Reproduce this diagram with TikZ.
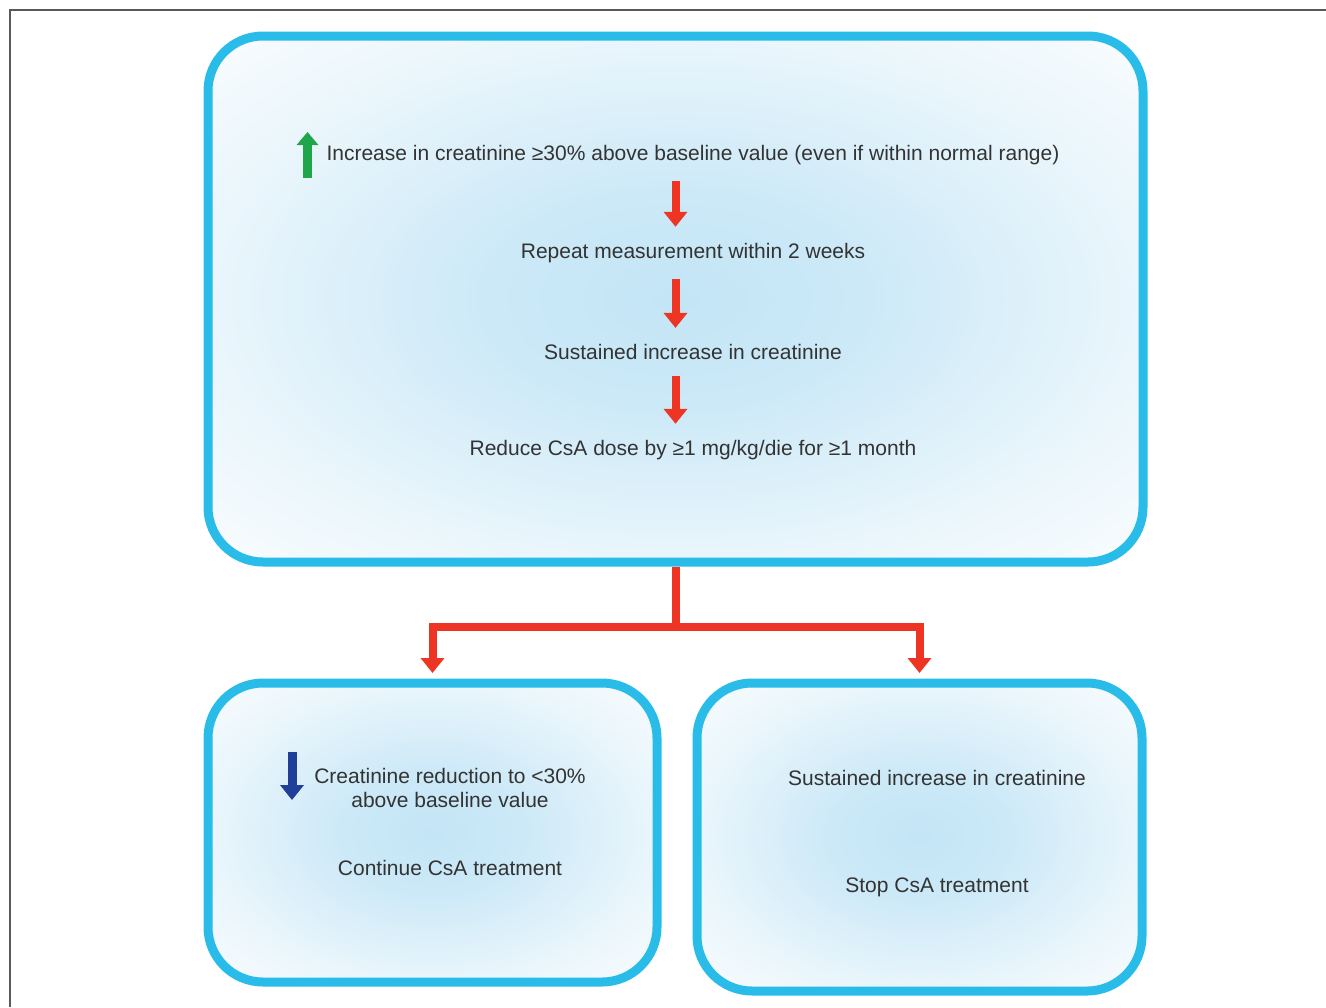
\documentclass[tikz,border=0pt]{standalone}
\usepackage{fontspec}
\setmainfont{Liberation Sans}
\usetikzlibrary{arrows.meta}
\definecolor{boxblue}{HTML}{29BCE9}
\definecolor{flowred}{HTML}{EE3524}
\definecolor{upgreen}{HTML}{1FA54A}
\definecolor{downblue}{HTML}{1F3F98}
\definecolor{glow}{HTML}{C3E5F6}
\definecolor{textgray}{HTML}{333333}
\pgfdeclareradialshading{boxglow}{\pgfpoint{0bp}{0bp}}{color(0bp)=(glow); color(10bp)=(glow!85!white); color(25bp)=(glow!35!white); color(40bp)=(white); color(50bp)=(white)}
\tikzset{
  roundbox/.style={draw=boxblue, line width=4.5pt, rounded corners=27.5pt, shade, shading=boxglow, inner sep=0pt},
  txt/.style={text=textgray, font=\fontsize{10.5}{12}\selectfont, inner xsep=0pt, inner ysep=8pt, align=center},
  flow/.style={flowred, line width=4pt, -{Triangle[width=11.5pt,length=7.5pt]}},
  greenup/.style={upgreen, line width=4.5pt, -{Triangle[width=10.5pt,length=6.5pt]}},
  bluedown/.style={downblue, line width=4.5pt, -{Triangle[width=11.5pt,length=7.5pt]}}
}

\begin{document}
\begin{tikzpicture}[x=0.5pt, y=-0.5pt]
\useasboundingbox (0,0) rectangle (1326,1007);
\draw[black!65, line width=1pt] (10,1007) -- (10,10) -- (1326,10);
% boxes
\node[roundbox, minimum width=467.5pt, minimum height=263pt] (top) at (675.5,299) {};
\node[roundbox, minimum width=224.5pt, minimum height=149.5pt] (left) at (432.5,832.5) {};
\node[roundbox, minimum width=222.5pt, minimum height=154pt] (right) at (919.5,837) {};
% top box
\node[txt] (inc) at (693,155) {Increase in creatinine ≥30\% above baseline value (even if within normal range)};
\node[txt] (rep) at (693,253) {Repeat measurement within 2 weeks};
\node[txt] (sus) at (693,352) {Sustained increase in creatinine};
\node[txt] (red) at (693,450) {Reduce CsA dose by ≥1 mg/kg/die for ≥1 month};
\draw[greenup] (307.5,178) -- (307.5,132);
\draw[flow] (inc.south -| top.center) -- (rep.north -| top.center);
\draw[flow] (rep.south -| top.center) -- (sus.north -| top.center);
\draw[flow] (sus.south -| top.center) -- (red.north -| top.center);
% split
\coordinate (fork) at ([yshift=-30pt]top.south);
\draw[flowred, line width=4pt] (top.south) -- (fork);
\draw[flow, shorten >=2.75pt] (fork) -| (left.north);
\draw[flow, shorten >=2.75pt] (fork) -| (right.north);
% bottom boxes
\node[txt, inner ysep=0pt] (redn) at (450,788) {Creatinine reduction to <30\%\\above baseline value};
\node[txt, inner ysep=0pt] (cont) at (450,868) {Continue CsA treatment};
\draw[bluedown] (292,752) -- (292,800);
\node[txt, inner ysep=0pt] (incr) at (937,778) {Sustained increase in creatinine};
\node[txt, inner ysep=0pt] (stop) at (937,887) {Stop CsA treatment};
\end{tikzpicture}
\end{document}
